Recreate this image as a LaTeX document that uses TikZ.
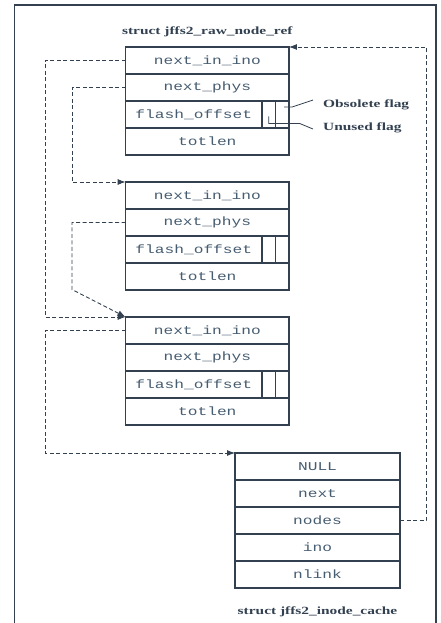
\documentclass[tikz,border=0pt]{standalone}
\usepackage{fontspec}
\setmainfont{Liberation Serif}
\newfontfamily\capfont[FakeStretch=1.4]{Liberation Serif}
\newfontfamily\fieldfont[FakeStretch=1.35]{Liberation Mono}
\usetikzlibrary{arrows.meta,positioning,calc}
\definecolor{boxline}{RGB}{50,64,80}
\definecolor{fieldtext}{RGB}{70,92,112}

\begin{document}
\begin{tikzpicture}[x=1pt,y=1pt,
	field/.style={rectangle,draw=boxline,line width=1.1pt,outer sep=0pt,inner sep=0pt,minimum height=27pt,minimum width=163.3pt,font=\fontsize{12}{13}\fieldfont,text=fieldtext},
	flagcell/.style={rectangle,draw=boxline,line width=1.1pt,outer sep=0pt,inner sep=0pt,minimum height=27pt,minimum width=13.5pt},
	caption/.style={font=\fontsize{11}{12}\capfont\bfseries,text=boxline,inner sep=1pt},
	link/.style={draw=boxline,line width=0.9pt,dash pattern=on 4pt off 2.5pt,-{Latex[length=8pt,width=6pt]}},
	leader/.style={draw=boxline,line width=0.8pt}]
	
	\useasboundingbox (0,0) rectangle (440,-623);
	\draw[boxline,line width=1.3pt] (14.6,-623) |- (436,-5) -- (436,-623);
	
	% first raw node ref
	\node[caption] (rawcap) at (207.3,-32) {struct jffs2\_raw\_node\_ref};
	\node[field] (na1) at (207.3,-60.5) {next\_in\_ino};
	\node[field,below=0pt of na1] (pa1) {next\_phys};
	\node[field,minimum width=136.3pt,anchor=north west] (fa1) at (pa1.south west) {flash\_offset};
	\node[flagcell,right=0pt of fa1] (ua1) {};
	\node[flagcell,right=0pt of ua1] (oa1) {};
	\node[field,anchor=north west] (ta1) at (fa1.south west) {totlen};
	
	% second raw node ref
	\node[field] (na2) at (207.3,-195.5) {next\_in\_ino};
	\node[field,below=0pt of na2] (pa2) {next\_phys};
	\node[field,minimum width=136.3pt,anchor=north west] (fa2) at (pa2.south west) {flash\_offset};
	\node[flagcell,right=0pt of fa2] (ua2) {};
	\node[flagcell,right=0pt of ua2] (oa2) {};
	\node[field,anchor=north west] (ta2) at (fa2.south west) {totlen};
	
	% third raw node ref
	\node[field] (na3) at (207.3,-330.5) {next\_in\_ino};
	\node[field,below=0pt of na3] (pa3) {next\_phys};
	\node[field,minimum width=136.3pt,anchor=north west] (fa3) at (pa3.south west) {flash\_offset};
	\node[flagcell,right=0pt of fa3] (ua3) {};
	\node[flagcell,right=0pt of ua3] (oa3) {};
	\node[field,anchor=north west] (ta3) at (fa3.south west) {totlen};
	
	% inode cache
	\node[field,minimum width=165pt] (ic1) at (317.5,-466.5) {NULL};
	\node[field,minimum width=165pt,below=0pt of ic1] (ic2) {next};
	\node[field,minimum width=165pt,below=0pt of ic2] (ic3) {nodes};
	\node[field,minimum width=165pt,below=0pt of ic3] (ic4) {ino};
	\node[field,minimum width=165pt,below=0pt of ic4] (ic5) {nlink};
	\node[caption] (inocap) at (317.5,-612) {struct jffs2\_inode\_cache};
	
	% flag labels
	\node[caption,anchor=west] (obl) at (322,-105) {Obsolete flag};
	\node[caption,anchor=west] (unl) at (322,-128) {Unused flag};
	\draw[leader] ($(oa1.center)+(2,7.5)$) -- ++(8,0) -- ($(obl.west)+(-9,5)$);
	\draw[leader] ($(ua1.center)+(0,-2)$) |- ++(31,-7) -- ($(unl.west)+(-9,-1)$);
	
	% Arrows
	\draw[link] (na1.west) -- ++(-80.7,0) |- (na3.north west);
	\draw[link] (na3.west) -- ++(-80.7,0) |- (ic1.north west);
	\draw[link] (pa1.west) -- ++(-53.7,0) |- (na2.north west);
	\draw[link] (pa2.west) -- ++(-53.7,0) -- ++(0,-67) -- (na3.north west);
	\draw[link] (ic3.east) -- ++(26,0) |- (na1.north east);
	
\end{tikzpicture}
\end{document}
